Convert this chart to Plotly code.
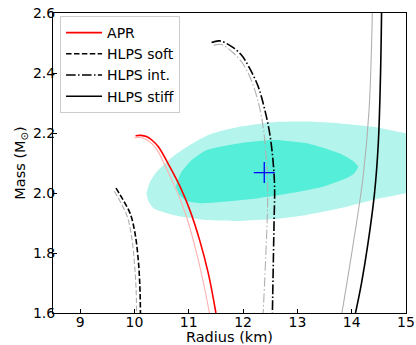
import plotly.graph_objects as go

# Mass-radius curves (radius in km, mass in solar masses)
apr_r = [10.02, 10.12, 10.22, 10.33, 10.44, 10.65, 10.84, 11.02, 11.20, 11.36, 11.50]
apr_m = [2.191, 2.192, 2.188, 2.175, 2.154, 2.088, 2.021, 1.943, 1.843, 1.732, 1.600]
apr_r_alt = [10.00, 10.10, 10.20, 10.31, 10.42, 10.61, 10.79, 10.96, 11.12, 11.26, 11.38]
apr_m_alt = [2.184, 2.185, 2.180, 2.166, 2.143, 2.073, 2.002, 1.920, 1.817, 1.710, 1.600]

soft_r = [9.66, 9.79, 9.92, 10.01, 10.07, 10.10, 10.11]
soft_m = [2.016, 1.977, 1.932, 1.866, 1.777, 1.688, 1.600]
soft_r_alt = [9.63, 9.75, 9.87, 9.95, 10.00, 10.03, 10.04]
soft_m_alt = [2.006, 1.967, 1.920, 1.852, 1.765, 1.680, 1.600]

int_r = [11.42, 11.57, 11.79, 11.97, 12.12, 12.28, 12.40, 12.49, 12.55, 12.58, 12.57, 12.56, 12.54]
int_m = [2.502, 2.507, 2.488, 2.460, 2.416, 2.354, 2.277, 2.199, 2.110, 2.020, 1.900, 1.800, 1.600]
int_r_alt = [11.46, 11.60, 11.80, 11.98, 12.13, 12.27, 12.37, 12.42, 12.45, 12.45, 12.42, 12.37]
int_m_alt = [2.492, 2.495, 2.470, 2.435, 2.385, 2.310, 2.220, 2.130, 2.050, 1.950, 1.800, 1.600]

stiff_r = [14.55, 14.53, 14.49, 14.42, 14.30, 14.18, 14.07]
stiff_m = [2.600, 2.388, 2.166, 1.999, 1.832, 1.699, 1.600]
stiff_r_alt = [14.38, 14.32, 14.21, 14.03, 13.82]
stiff_m_alt = [2.600, 2.277, 2.054, 1.833, 1.600]

# Credible regions: outer (light) and inner (dark) contours, traced clockwise
outer_r = [10.22, 10.28, 10.41, 10.71, 11.02, 11.33, 11.64, 11.94, 12.55, 13.17, 13.78,
           14.39, 15.00, 15.40, 15.40, 15.00, 14.39, 13.78, 13.17, 12.55, 11.94,
           11.33, 10.71, 10.35, 10.25]
outer_m = [1.999, 2.035, 2.071, 2.122, 2.160, 2.191, 2.209, 2.221, 2.236, 2.238, 2.232,
           2.221, 2.199, 2.180, 2.010, 1.999, 1.977, 1.949, 1.927, 1.913, 1.907,
           1.910, 1.927, 1.949, 1.975]
inner_r = [10.76, 10.85, 11.02, 11.33, 11.94, 12.55, 13.17, 13.78, 14.00, 14.12,
           14.05, 13.90, 13.47, 12.86, 12.25, 11.63, 11.20, 10.95, 10.82]
inner_m = [2.021, 2.065, 2.104, 2.143, 2.166, 2.177, 2.166, 2.132, 2.110, 2.088,
           2.066, 2.049, 2.021, 1.999, 1.982, 1.971, 1.966, 1.974, 1.995]

# Central estimate
centre_r = [12.39]
centre_m = [2.068]

fig = go.Figure()

fig.add_trace(go.Scatter(x=outer_r, y=outer_m, mode="lines", fill="toself",
                         line=dict(width=0, shape="spline", smoothing=0.6),
                         fillcolor="#b3f5ec", showlegend=False, hoverinfo="skip"))
fig.add_trace(go.Scatter(x=inner_r, y=inner_m, mode="lines", fill="toself",
                         line=dict(width=0, shape="spline", smoothing=0.6),
                         fillcolor="#55eed8", showlegend=False, hoverinfo="skip"))

dash_soft = "5.5px,2.4px"
dash_int = "9.6px,2.4px,1.5px,2.4px"

# faint companion curves
fig.add_trace(go.Scatter(x=apr_r_alt, y=apr_m_alt, mode="lines",
                         line=dict(color="#ffb0b0", width=1.1, shape="spline"), showlegend=False))
fig.add_trace(go.Scatter(x=soft_r_alt, y=soft_m_alt, mode="lines",
                         line=dict(color="#b0b0b0", width=1.1, dash=dash_soft, shape="spline"), showlegend=False))
fig.add_trace(go.Scatter(x=int_r_alt, y=int_m_alt, mode="lines",
                         line=dict(color="#b0b0b0", width=1.1, dash=dash_int, shape="spline"), showlegend=False))
fig.add_trace(go.Scatter(x=stiff_r_alt, y=stiff_m_alt, mode="lines",
                         line=dict(color="#b0b0b0", width=1.1, shape="spline"), showlegend=False))

# main curves
fig.add_trace(go.Scatter(x=apr_r, y=apr_m, mode="lines", name="APR",
                         line=dict(color="red", width=1.6, shape="spline")))
fig.add_trace(go.Scatter(x=soft_r, y=soft_m, mode="lines", name="HLPS soft",
                         line=dict(color="black", width=1.6, dash=dash_soft, shape="spline")))
fig.add_trace(go.Scatter(x=int_r, y=int_m, mode="lines", name="HLPS int.",
                         line=dict(color="black", width=1.6, dash=dash_int, shape="spline")))
fig.add_trace(go.Scatter(x=stiff_r, y=stiff_m, mode="lines", name="HLPS stiff",
                         line=dict(color="black", width=1.6, shape="spline")))

fig.add_trace(go.Scatter(x=centre_r, y=centre_m, mode="markers", showlegend=False,
                         marker=dict(symbol="cross-thin", size=15, color="blue",
                                     line=dict(color="blue", width=1.3))))

axis_common = dict(showgrid=False, zeroline=False, showline=True, linecolor="black",
                   linewidth=1, mirror=True, ticks="inside", ticklen=4, tickwidth=1,
                   tickcolor="black", automargin=False,
                   tickfont=dict(family="DejaVu Sans", size=14, color="black"))

fig.update_xaxes(range=[8.5, 15], tickvals=[9, 10, 11, 12, 13, 14, 15],
                 ticklabelstandoff=-4,
                 title=dict(text="Radius (km)", font=dict(family="DejaVu Sans", size=14.5, color="black"),
                            standoff=7),
                 **axis_common)
fig.update_yaxes(range=[1.6, 2.6], tickvals=[1.6, 1.8, 2.0, 2.2, 2.4, 2.6],
                 tickformat=".1f", ticklabelstandoff=-6,
                 title=dict(text="Mass (M<sub>⊙</sub>)", font=dict(family="DejaVu Sans", size=14.5, color="black"),
                            standoff=3),
                 **axis_common)

fig.update_layout(
    width=416, height=345,
    margin=dict(l=53, r=10, t=13, b=32),
    paper_bgcolor="white", plot_bgcolor="white",
    font=dict(family="DejaVu Sans", color="black"),
    legend=dict(x=0.02, y=0.99, xanchor="left", yanchor="top",
                bgcolor="white", bordercolor="#cccccc", borderwidth=1,
                font=dict(family="DejaVu Sans", size=14, color="black"), tracegroupgap=0,
                itemwidth=36),
)

fig.write_html("out.html")
